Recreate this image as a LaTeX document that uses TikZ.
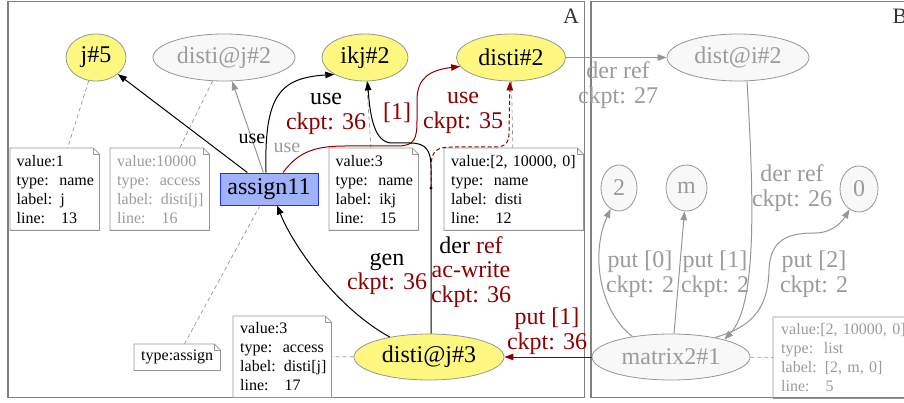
\documentclass[tikz,border=0pt]{standalone}
\usepackage{fontspec}
\setmainfont{Liberation Serif}
\usetikzlibrary{shapes.geometric,arrows.meta}

\definecolor{yfill}{RGB}{255,248,128}
\definecolor{gfill}{RGB}{248,248,248}
\definecolor{gline}{RGB}{150,150,150}
\definecolor{gtext}{RGB}{155,155,155}
\definecolor{dred}{RGB}{139,0,0}
\definecolor{bfill}{RGB}{160,178,250}
\definecolor{bline}{RGB}{30,50,240}
\definecolor{framegray}{RGB}{128,128,128}

\newcommand{\bigtxt}{\fontsize{24}{24.5}\selectfont}
\newcommand{\midtxt}{\fontsize{20}{22}\selectfont}
\newcommand{\notetxt}{\fontsize{16}{19}\selectfont}

% outline of a note box with a folded top-right corner
\newcommand{\foldframe}[2]{%
  \draw[#2] (#1.north west) -- ([xshift=-6pt]#1.north east) -- ([yshift=-6pt]#1.north east)
     -- (#1.south east) -- (#1.south west) -- cycle;
  \draw[#2] ([xshift=-6pt]#1.north east) -- ([xshift=-6pt,yshift=-6pt]#1.north east)
     -- ([yshift=-6pt]#1.north east);
}

\tikzset{
  yel/.style={ellipse, draw=gline, fill=yfill, line width=0.8pt, inner sep=0pt, font=\bigtxt},
  gel/.style={ellipse, draw=gline, fill=gfill, text=gtext, line width=0.8pt, inner sep=0pt, font=\bigtxt},
  asgbox/.style={rectangle, draw=bline, fill=bfill, line width=0.9pt, inner sep=0pt, font=\bigtxt},
  note/.style={rectangle, anchor=north west, align=left, inner ysep=0pt, font=\notetxt},
  frameline/.style={draw=gline, line width=0.8pt},
  notelink/.style={draw=gline, line width=0.7pt, dash pattern=on 4pt off 3pt},
  tip/.style={-{Triangle[length=9pt,width=6.5pt]}},
  blk/.style={draw=black, line width=1pt, tip},
  redge/.style={draw=dred, line width=1pt, tip},
  gedge/.style={draw=gline, line width=1pt, tip},
  lbl/.style={inner sep=0pt, align=center, font=\bigtxt},
  slbl/.style={inner sep=0pt, font=\midtxt},
}

\begin{document}
\begin{tikzpicture}[x=1pt, y=-1pt]
\useasboundingbox (0,0) rectangle (904,403);

% cluster frames
\draw[framegray, line width=1.5pt] (8,1.5) rectangle (584.5,397.5);
\draw[framegray, line width=1.5pt] (591,1.5) rectangle (925,397.5);
\node[font=\fontsize{22}{22}\selectfont, text=black!80, inner sep=0pt] (labA) at (571,16) {A};
\node[font=\fontsize{22}{22}\selectfont, text=black!80, inner sep=0pt] (labB) at (900,16) {B};

% graph nodes
\node[yel, minimum width=60pt, minimum height=47pt] (j5) at (96,57.5) {j\#5};
\node[gel, minimum width=142pt, minimum height=47pt] (dj2) at (224,57.5) {disti@j\#2};
\node[yel, minimum width=86pt, minimum height=47pt] (ikj) at (365,57.5) {ikj\#2};
\node[yel, minimum width=109pt, minimum height=47pt] (disti2) at (511,57.5) {disti\#2};
\node[gel, minimum width=142pt, minimum height=47pt] (di2) at (738,57.5) {dist@i\#2};
\node[asgbox, minimum width=98pt, minimum height=32pt] (asg) at (269,189) {assign11};
\node[yel, minimum width=150pt, minimum height=46pt] (dj3) at (429,357) {disti@j\#3};
\node[gel, minimum width=158pt, minimum height=46pt] (mx) at (671,357) {matrix2\#1};
\node[gel, minimum width=36pt, minimum height=46pt] (two) at (619,188) {2};
\node[gel, minimum width=41pt, minimum height=46pt] (mcirc) at (686.5,188) {m};
\node[gel, minimum width=38pt, minimum height=46pt] (zero) at (859,189) {0};
\node[circle, fill=black, inner sep=0pt, minimum size=3.2pt] (dot) at (431,188) {};

% attribute notes
\node[note, inner xsep=6.5pt, text width=76pt, minimum height=82pt] (nj) at (10,148)
  {\mbox{value:1}\\\mbox{type:\ \ name}\\\mbox{label: j}\\\mbox{line:\ \ \ 13}};
\node[note, inner xsep=7pt, text width=85pt, minimum height=82pt, text=gtext] (ndj2) at (110,148)
  {\mbox{value:10000}\\\mbox{type:\ \ access}\\\mbox{label: disti[j]}\\\mbox{line:\ \ \ 16}};
\node[note, inner xsep=6.5pt, text width=76pt, minimum height=82pt] (nikj) at (329,148)
  {\mbox{value:3}\\\mbox{type:\ \ name}\\\mbox{label: ikj}\\\mbox{line:\ \ \ 15}};
\node[note, inner xsep=7pt, text width=125pt, minimum height=82pt] (ndisti) at (444,148)
  {\mbox{value:[2, 10000, 0]}\\\mbox{type:\ \ name}\\\mbox{label: disti}\\\mbox{line:\ \ \ 12}};
\node[note, inner xsep=7pt, text width=72pt, minimum height=26pt] (nasg) at (134,344)
  {\mbox{type:assign}};
\node[note, inner xsep=7pt, text width=84pt, minimum height=81pt] (ndj3) at (233,316)
  {\mbox{value:3}\\\mbox{type:\ \ access}\\\mbox{label: disti[j]}\\\mbox{line:\ \ \ 17}};
\node[note, inner xsep=8pt, text width=130pt, minimum height=81pt, text=gtext] (nmx) at (773,317)
  {\mbox{value:[2, 10000, 0]}\\\mbox{type:\ \ list}\\\mbox{label: [2, m, 0]}\\\mbox{line:\ \ \ 5}};

\foldframe{nj}{frameline}
\foldframe{ndj2}{frameline}
\foldframe{nikj}{frameline}
\foldframe{ndisti}{frameline}
\foldframe{nasg}{frameline}
\foldframe{ndj3}{frameline}
\foldframe{nmx}{frameline}

% links from nodes to their notes
\draw[notelink] (j5) -- (nj);
\draw[notelink] (dj2) -- (ndj2);
\draw[notelink] (ikj) -- (nikj);
\draw[notelink] (disti2) -- (ndisti);
\draw[notelink] (asg) -- (nasg);
\draw[notelink] (dj3) -- (ndj3);
\draw[notelink] (mx) -- (nmx);

% edges of cluster A
\draw[blk] (asg) -- (j5);
\draw[gedge] (asg) -- (dj2);
\draw[blk] ([xshift=-3pt]asg.north) .. controls (264,95) and (280,78) .. (ikj.south west);
\draw[redge] ([xshift=14pt]asg.north) .. controls (298,152) and (315,146) .. (345,146)
  -- (398,146) .. controls (415,146) and (417,138) .. (417,120) -- (417,100)
  .. controls (417,78) and (430,70) .. (disti2.190);
\draw[blk] ([xshift=2pt]dj3.north) -- (dot.center) -- (431,168)
  .. controls (431,150) and (426,143) .. (410,143) -- (392,143)
  .. controls (374,143) and (370,115) .. (ikj.-84);
\draw[redge, dash pattern=on 4pt off 2.5pt] (dot.center) -- (431,168)
  .. controls (431,151) and (436,147) .. (452,147) -- (494,147)
  .. controls (506,147) and (509,143) .. (509,132) -- ([xshift=-1pt]disti2.south);
\draw[blk] (dj3.153) .. controls (340,310) and (295,250) .. ([xshift=8pt]asg.south);
\draw[redge] (mx) -- (dj3);
\draw[gedge] (disti2) -- (di2);

% edges of cluster B
\draw[gedge] ([xshift=9pt]di2.south) .. controls (754,200) and (757,305) .. (mx.18);
\draw[gedge] (mx.152) .. controls (600,312) and (590,255) .. (two.-112);
\draw[gedge] ([xshift=3pt]mx.north) -- (mcirc);
\draw[gedge] (mx.24) .. controls (760,325) and (768,300) .. (769,270)
  .. controls (770,238) and (790,233) .. (815,233)
  .. controls (832,233) and (842,222) .. (zero.-115);

% edge labels
\node[slbl] (l1) at (252,139) {use};
\node[slbl, text=gtext] (l2) at (287,148) {use};
\node[lbl, text=dred] (l3) at (326,114) {{\color{black}use}\\ckpt: 36};
\node[lbl, text=dred] (l4) at (397,113) {[1]};
\node[lbl, text=dred] (l5) at (463,113) {use\\ckpt: 35};
\node[lbl, text=gtext] (l6) at (618,85) {der ref\\ckpt: 27};
\node[lbl, text=dred] (l7) at (387,274) {{\color{black}gen}\\ckpt: 36};
\node[lbl, text=dred] (l8) at (471,272) {{\color{black}der} ref\\ac-write\\ckpt: 36};
\node[lbl, text=dred] (l9) at (547,331) {put [1]\\ckpt: 36};
\node[lbl, text=gtext] (l10) at (792,188) {der ref\\ckpt: 26};
\node[lbl, text=gtext] (l11) at (640,274) {put [0]\\ckpt: 2};
\node[lbl, text=gtext] (l12) at (715,274) {put [1]\\ckpt: 2};
\node[lbl, text=gtext] (l13) at (814,274) {put [2]\\ckpt: 2};
\end{tikzpicture}
\end{document}
